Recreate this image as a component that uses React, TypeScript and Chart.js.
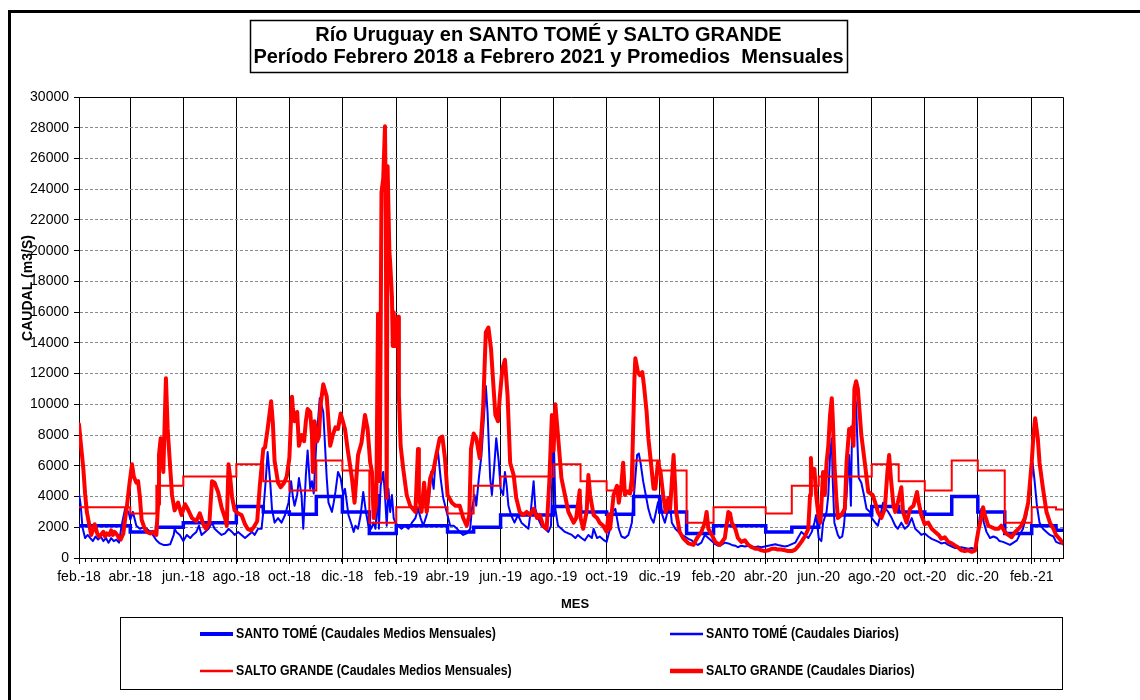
import { useEffect, useRef } from "react";
import { Chart, registerables } from "chart.js";

Chart.register(...registerables);

// ---------- texts ----------
const titleLines = [
  "Río Uruguay en SANTO TOMÉ y SALTO GRANDE",
  "Período Febrero 2018 a Febrero 2021 y Promedios  Mensuales",
];
const yAxisTitle = "CAUDAL (m3/S)";
const xAxisTitle = "MES";
const seriesNames = [
  "SANTO TOMÉ (Caudales Medios Mensuales)",
  "SANTO TOMÉ (Caudales Diarios)",
  "SALTO GRANDE (Caudales Medios Mensuales)",
  "SALTO GRANDE (Caudales Diarios)",
];

// ---------- x axis (days counted from 1 Feb 2018) ----------
const xTickLabels = [
  "feb.-18", "abr.-18", "jun.-18", "ago.-18", "oct.-18", "dic.-18",
  "feb.-19", "abr.-19", "jun.-19", "ago.-19", "oct.-19", "dic.-19",
  "feb.-20", "abr.-20", "jun.-20", "ago.-20", "oct.-20", "dic.-20",
  "feb.-21",
];
const xTickMonthOffsets = [0, 2, 4, 6, 8, 10, 12, 14, 16, 18, 20, 22, 24, 26, 28, 30, 32, 34, 36];
const xMaxDay = 1132;
const minorTickStepDays = 7;

// ---------- y axis ----------
const yMin = 0;
const yMax = 30000;
const yStep = 2000;

// ---------- monthly means (Feb-2018 ... Mar-2021) ----------
const stMonthly = [
  2100, 2100, 1700, 2000, 2300, 2300, 3350, 3000, 2850, 4000, 3000, 1600,
  2100, 2100, 1700, 2000, 2800, 2800, 3350, 3000, 2850, 4000, 3000, 1600,
  2100, 2100, 1700, 2000, 2800, 2800, 3350, 3000, 2850, 4000, 3000, 1600,
  2100, 1800,
];
const sgMonthly = [
  3300, 3300, 2900, 4700, 5300, 5300, 6100, 5000, 4400, 6350, 5700, 2300,
  3300, 3300, 2900, 4700, 5300, 5300, 6100, 5000, 4400, 6350, 5700, 2300,
  3300, 3300, 2900, 4700, 5300, 5300, 6100, 5000, 4400, 6350, 5700, 2300,
  3300, 3150,
];

// ---------- daily flows, Santo Tomé ----------
const stDailyDay = [
  0, 2, 4, 7, 10, 13, 16, 19, 22, 25, 28, 31, 34, 37, 40, 43, 46, 49, 53, 57,
  59, 62, 66, 70, 74, 78, 82, 85, 89, 93, 97, 101, 105, 109, 110, 112, 116, 120, 124, 128,
  131, 135, 138, 141, 145, 149, 153, 156, 160, 164, 168, 172, 176, 179, 183, 187, 191, 195, 199, 202,
  206, 210, 212, 215, 217, 220, 222, 225, 229, 233, 237, 241, 244, 246, 248, 251, 253, 256, 258, 261,
  263, 266, 268, 270, 273, 277, 281, 285, 287, 291, 293, 295, 298, 301, 304, 306, 310, 314, 316, 318,
  321, 324, 327, 330, 333, 336, 339, 341, 344, 345, 347, 350, 352, 354, 356, 358, 360, 362, 364, 367,
  371, 375, 379, 383, 387, 390, 393, 396, 400, 403, 405, 408, 410, 413, 416, 419, 423, 427, 431, 435,
  438, 442, 446, 450, 452, 455, 457, 460, 463, 466, 468, 470, 473, 475, 478, 480, 483, 485, 488, 490,
  492, 494, 497, 501, 505, 509, 513, 517, 520, 523, 525, 528, 532, 536, 540, 543, 546, 548, 551, 555,
  559, 563, 567, 571, 574, 578, 582, 586, 590, 592, 596, 599, 603, 607, 609, 611, 614, 617, 621, 624,
  628, 632, 636, 639, 642, 644, 646, 649, 652, 655, 658, 661, 663, 666, 669, 671, 674, 677, 680, 682,
  686, 690, 693, 697, 701, 705, 708, 712, 716, 720, 724, 728, 732, 735, 739, 743, 747, 751, 755, 758,
  762, 766, 770, 774, 778, 781, 785, 789, 793, 797, 801, 804, 808, 812, 816, 820, 824, 827, 831, 835,
  839, 843, 846, 848, 851, 854, 856, 860, 862, 864, 866, 867, 869, 873, 875, 878, 880, 883, 886, 888,
  889, 892, 894, 897, 900, 903, 906, 910, 912, 916, 919, 922, 925, 928, 931, 935, 939, 942, 946, 950,
  954, 958, 962, 966, 969, 973, 977, 981, 985, 989, 992, 996, 1000, 1004, 1008, 1011, 1015, 1019, 1023, 1027,
  1031, 1034, 1036, 1038, 1041, 1044, 1048, 1052, 1056, 1059, 1063, 1067, 1071, 1075, 1079, 1082, 1086, 1090, 1094, 1097,
  1099, 1102, 1105, 1109, 1113, 1117, 1121, 1124, 1128, 1132,
];
const stDailyVal = [
  4200, 3400, 2000, 1300, 1500, 1300, 1100, 1400, 1200, 1400, 1100, 1300, 1000, 1300, 1100, 1200, 1000, 2100, 3200, 3000,
  2500, 3000, 2100, 1900, 2000, 1900, 1700, 1500, 1150, 950, 850, 850, 900, 1500, 1900, 1700, 1500, 1100, 1500, 1300,
  1500, 1700, 2100, 1500, 1700, 1900, 2300, 1900, 1700, 1500, 1600, 1900, 1700, 1500, 1700, 1500, 1300, 1500, 1700, 1500,
  1900, 1900, 3000, 5200, 6900, 4900, 3200, 2300, 2600, 2300, 2800, 3600, 5000, 4000, 3400, 4100, 5200, 4100, 1900, 5400,
  7000, 4500, 5000, 4200, 7500, 10400, 9500, 5200, 3600, 3000, 3600, 4300, 5600, 5200, 4100, 4500, 2800, 2100, 1700, 2100,
  1900, 2800, 4300, 3000, 2100, 1900, 2300, 1900, 4100, 1900, 4700, 5600, 4100, 2100, 4500, 3000, 4100, 2600, 2300, 2100,
  1900, 2100, 1900, 2300, 2600, 3200, 2600, 2100, 2800, 4100, 5600, 4500, 6200, 6900, 5200, 3900, 3000, 2100, 2100, 1900,
  1700, 1500, 1600, 1900, 3200, 4100, 3400, 5200, 6700, 9300, 11200, 9500, 5200, 4100, 6200, 7800, 6200, 4500, 4100, 5600,
  4700, 3400, 2800, 2300, 2800, 2300, 2100, 1900, 3200, 5000, 3200, 2600, 2100, 1900, 1700, 2100, 8400, 3200, 2100, 1900,
  1700, 1600, 1500, 1300, 1500, 1300, 1150, 1500, 1300, 1900, 1300, 1400, 1200, 1050, 1500, 1900, 3000, 3200, 1900, 1400,
  1300, 1500, 2300, 4500, 6700, 6800, 6200, 5000, 4100, 3200, 2600, 2300, 2800, 3600, 3900, 2800, 2300, 3000, 3400, 2300,
  1900, 1700, 1500, 1400, 1250, 1150, 950, 850, 1000, 1500, 1300, 1100, 900, 800, 850, 1000, 950, 850, 800, 700,
  800, 750, 800, 750, 700, 750, 700, 750, 800, 850, 900, 850, 800, 750, 800, 900, 1000, 1300, 1700, 1500,
  1300, 1700, 2300, 2800, 1300, 1100, 2300, 3000, 4100, 6700, 7800, 5200, 2300, 1500, 1300, 1400, 2100, 4100, 6700, 3400,
  7300, 11000, 9900, 5200, 4900, 4100, 3200, 3000, 2600, 2300, 2100, 2800, 3600, 3200, 3000, 2600, 2100, 1900, 2300, 1900,
  2100, 2600, 1900, 1700, 1500, 1600, 1400, 1250, 1150, 1050, 950, 1000, 850, 750, 650, 650, 700, 650, 600, 650,
  550, 1500, 2600, 3200, 2300, 1700, 1300, 1400, 1300, 1100, 1050, 950, 850, 1000, 1150, 1500, 1900, 2800, 4500, 6200,
  5200, 3400, 2300, 1900, 1700, 1500, 1400, 1050, 950, 950,
];

// ---------- daily flows, Salto Grande ----------
const sgDailyDay = [
  0, 2, 5, 7, 9, 12, 14, 16, 18, 21, 23, 25, 28, 30, 32, 35, 37, 39, 41, 44,
  46, 48, 51, 53, 55, 58, 61, 63, 66, 68, 70, 72, 75, 78, 82, 85, 89, 91, 92, 94,
  97, 100, 102, 105, 107, 110, 114, 118, 122, 125, 130, 135, 139, 143, 146, 150, 153, 156, 160, 164,
  168, 170, 172, 174, 176, 179, 183, 187, 191, 194, 198, 201, 205, 208, 212, 214, 217, 221, 223, 225,
  229, 232, 236, 239, 242, 245, 246, 248, 251, 253, 256, 259, 261, 263, 266, 268, 269, 271, 274, 276,
  278, 281, 285, 289, 292, 295, 298, 301, 306, 309, 314, 317, 321, 325, 329, 332, 335, 337, 339, 342,
  344, 346, 348, 350, 352, 353, 354, 355, 357, 358, 360, 361, 362, 364, 367, 368, 370, 373, 377, 381,
  384, 387, 390, 391, 394, 397, 400, 404, 408, 411, 415, 418, 421, 424, 429, 433, 438, 442, 446, 449,
  451, 454, 457, 461, 465, 468, 471, 474, 477, 479, 482, 484, 487, 490, 493, 496, 500, 503, 507, 511,
  515, 519, 523, 527, 530, 534, 538, 541, 544, 546, 548, 551, 555, 559, 563, 569, 572, 576, 577, 580,
  584, 586, 588, 592, 596, 599, 603, 607, 609, 611, 615, 619, 621, 624, 626, 628, 630, 634, 636, 639,
  640, 643, 645, 648, 650, 653, 655, 658, 661, 663, 666, 669, 672, 675, 678, 680, 684, 686, 687, 691,
  695, 701, 707, 711, 716, 720, 722, 724, 728, 732, 737, 743, 747, 749, 751, 755, 758, 762, 766, 770,
  774, 778, 781, 785, 789, 793, 797, 801, 804, 808, 812, 816, 820, 824, 827, 831, 835, 839, 841, 842,
  843, 846, 848, 851, 853, 856, 858, 860, 862, 864, 866, 867, 869, 871, 873, 877, 881, 883, 886, 888,
  889, 891, 892, 894, 896, 898, 900, 904, 908, 913, 916, 919, 923, 927, 930, 932, 934, 937, 939, 942,
  946, 948, 952, 956, 960, 964, 966, 969, 973, 977, 981, 985, 989, 992, 996, 1000, 1004, 1008, 1011, 1015,
  1019, 1023, 1027, 1031, 1033, 1035, 1038, 1040, 1042, 1046, 1050, 1054, 1058, 1061, 1065, 1069, 1073, 1077, 1081, 1084,
  1088, 1092, 1096, 1098, 1100, 1103, 1105, 1109, 1113, 1117, 1121, 1124, 1128, 1132,
];
const sgDailyVal = [
  8700, 7500, 5800, 4200, 3000, 2100, 1500, 1800, 2200, 1600, 1400, 1500, 1700, 1400, 1600, 1500, 1800, 1500, 1700, 1500,
  1300, 1200, 1600, 2500, 3300, 4800, 6100, 5300, 4900, 5000, 4000, 2500, 2000, 1700, 1600, 1700, 1500, 3500, 6700, 7800,
  5600, 11700, 8400, 5800, 4100, 3100, 3600, 2800, 3500, 3200, 2600, 2400, 2900, 2200, 1900, 2300, 5000, 4900, 4300, 3300,
  2600, 2100, 6100, 5200, 4000, 3100, 2900, 2800, 2200, 1900, 1800, 2000, 2400, 4700, 7100, 7200, 8400, 10200, 8800, 6300,
  4900, 4600, 4900, 5300, 6500, 10500, 9800, 8900, 9500, 7300, 8000, 7600, 8900, 9700, 9500, 8000, 5600, 8900, 7600, 7900,
  10000, 11300, 10500, 7300, 8000, 8500, 8400, 9400, 8400, 7100, 5200, 3600, 6700, 7500, 9300, 8400, 6200, 5600, 2600, 3500,
  15900, 5000, 23800, 24700, 28100, 22300, 3900, 25500, 20000, 19200, 17000, 13800, 16000, 13800, 15700, 10600, 7300, 5800, 4100, 3400,
  3200, 3000, 7100, 4000, 3000, 4900, 3000, 5200, 5800, 6700, 7800, 7900, 6500, 4100, 3600, 3400, 3400, 2600, 2100, 2800,
  7100, 8100, 7800, 6500, 9900, 14700, 15000, 13600, 11000, 9300, 8900, 10400, 12300, 12900, 10600, 6200, 5400, 3900, 3000, 2800,
  3000, 2800, 3200, 2600, 2800, 2100, 1900, 4900, 9300, 7000, 10000, 8000, 5200, 4100, 3000, 2300, 2600, 4400, 2600, 1900,
  3000, 5400, 4100, 2800, 2600, 2300, 2100, 1700, 2800, 1900, 4100, 4700, 3600, 4800, 6200, 4100, 4300, 4200, 5200, 11700,
  13000, 12100, 11900, 12100, 11200, 9500, 7800, 6200, 4500, 4500, 6200, 5600, 4100, 3000, 3900, 3200, 6700, 4500, 3000, 1700,
  1300, 950, 850, 1300, 1700, 2300, 3000, 1900, 1500, 1050, 850, 1300, 3000, 2900, 2300, 1900, 1300, 1050, 1150, 850,
  700, 600, 600, 500, 450, 500, 600, 600, 550, 550, 500, 450, 450, 550, 750, 1050, 1400, 1900, 4100, 6500,
  5200, 5800, 4100, 2600, 2300, 5600, 4100, 6200, 7300, 9300, 10400, 9300, 6200, 4100, 2600, 2800, 3200, 6200, 8400, 8000,
  8500, 7300, 11000, 11500, 11000, 9500, 8000, 6200, 4300, 4100, 3600, 3000, 2600, 3200, 5600, 6700, 5200, 3400, 3000, 3600,
  4600, 3000, 2300, 3200, 3400, 4300, 3600, 2800, 2200, 2300, 1900, 1700, 1500, 1250, 1350, 1050, 950, 800, 700, 500,
  450, 500, 400, 500, 1250, 1900, 2600, 3300, 2800, 2100, 2000, 1900, 1900, 2100, 1700, 1500, 1350, 1700, 1900, 2100,
  2600, 3600, 6200, 8000, 9100, 7800, 6200, 4500, 3000, 2300, 1900, 1500, 1250, 950,
];

// ---------- helpers ----------
const FONT = "'Liberation Sans', Arial, sans-serif";
const monthStartDay = (m: number) =>
  Math.round((Date.UTC(2018, 1 + m, 1) - Date.UTC(2018, 1, 1)) / 86400000);

const stepPoints = (vals: number[]) => {
  const pts = vals.map((v, i) => ({ x: monthStartDay(i), y: v }));
  pts.push({ x: xMaxDay, y: vals[vals.length - 1] });
  return pts;
};
const zipPoints = (days: number[], vals: number[]) =>
  days.map((d, i) => ({ x: d, y: vals[i] }));

const majorTickDays = xTickMonthOffsets.map(monthStartDay);
const minorTickDays: number[] = [];
for (let d = 0; d <= xMaxDay; d += minorTickStepDays) minorTickDays.push(d);

const BLUE = "#0000ff";
const RED = "#ff0000";

const legendItems = [
  { text: seriesNames[0], color: BLUE, width: 4, x: 200, y: 634 },
  { text: seriesNames[1], color: BLUE, width: 2.5, x: 670, y: 634 },
  { text: seriesNames[2], color: RED, width: 2.5, x: 200, y: 671 },
  { text: seriesNames[3], color: RED, width: 4.5, x: 670, y: 671 },
];

const decorPlugin = {
  id: "decor",
  afterDraw(chart: any) {
    const ctx = chart.ctx as CanvasRenderingContext2D;
    const a = chart.chartArea;
    const xs = chart.scales.x;
    ctx.save();
    ctx.strokeStyle = "#000";
    ctx.fillStyle = "#000";

    // plot frame (top + right)
    ctx.lineWidth = 1;
    ctx.beginPath();
    ctx.moveTo(Math.round(a.left), Math.round(a.top) + 0.5);
    ctx.lineTo(Math.round(a.right) + 0.5, Math.round(a.top) + 0.5);
    ctx.lineTo(Math.round(a.right) + 0.5, Math.round(a.bottom));
    ctx.stroke();

    // minor x tick marks (weekly)
    ctx.beginPath();
    const yb = Math.round(a.bottom);
    for (const d of minorTickDays) {
      const px = Math.round(xs.getPixelForValue(d)) + 0.5;
      ctx.moveTo(px, yb);
      ctx.lineTo(px, yb + 4);
    }
    ctx.stroke();

    // outer frame
    ctx.lineWidth = 3;
    ctx.beginPath();
    ctx.moveTo(9.5, 700);
    ctx.lineTo(9.5, 11.5);
    ctx.lineTo(1140, 11.5);
    ctx.stroke();

    // title box
    ctx.lineWidth = 1.5;
    ctx.strokeRect(250.5, 20.5, 597, 52);
    ctx.font = `bold 20px ${FONT}`;
    ctx.textAlign = "center";
    ctx.textBaseline = "middle";
    ctx.fillText(titleLines[0], 548.5, 35);
    ctx.fillText(titleLines[1], 548.5, 57);

    // axis titles
    ctx.font = `bold 14px ${FONT}`;
    ctx.save();
    ctx.translate(28, 288);
    ctx.rotate(-Math.PI / 2);
    ctx.fillText(yAxisTitle, 0, 0);
    ctx.restore();
    ctx.font = `bold 13px ${FONT}`;
    ctx.fillText(xAxisTitle, 575, 604);

    // legend box
    ctx.lineWidth = 1;
    ctx.strokeRect(120.5, 617.5, 942, 72);
    ctx.textAlign = "left";
    ctx.font = `bold 15px ${FONT}`;
    for (const it of legendItems) {
      ctx.strokeStyle = it.color;
      ctx.lineWidth = it.width;
      ctx.beginPath();
      ctx.moveTo(it.x, it.y);
      ctx.lineTo(it.x + 33, it.y);
      ctx.stroke();
      ctx.save();
      ctx.translate(it.x + 36, it.y);
      ctx.scale(0.82, 1);
      ctx.fillStyle = "#000";
      ctx.fillText(it.text, 0, 0);
      ctx.restore();
    }
    ctx.restore();
  },
};

export default function App() {
  const canvasRef = useRef<HTMLCanvasElement | null>(null);

  useEffect(() => {
    document.body.style.margin = "0";
    const canvas = canvasRef.current;
    if (!canvas) return;
    Chart.defaults.font.family = FONT;

    const chart = new Chart(canvas, {
      type: "line",
      data: {
        datasets: [
          {
            label: seriesNames[3],
            data: zipPoints(sgDailyDay, sgDailyVal),
            borderColor: RED,
            borderWidth: 4,
            pointRadius: 0,
            borderJoinStyle: "round",
            borderCapStyle: "round",
          },
          {
            label: seriesNames[2],
            data: stepPoints(sgMonthly),
            borderColor: RED,
            borderWidth: 2,
            pointRadius: 0,
            stepped: true,
          },
          {
            label: seriesNames[1],
            data: zipPoints(stDailyDay, stDailyVal),
            borderColor: BLUE,
            borderWidth: 2,
            pointRadius: 0,
            borderJoinStyle: "round",
          },
          {
            label: seriesNames[0],
            data: stepPoints(stMonthly),
            borderColor: BLUE,
            borderWidth: 3.5,
            pointRadius: 0,
            stepped: true,
          },
        ],
      },
      options: {
        responsive: false,
        animation: false,
        events: [],
        layout: { padding: { top: 97, right: 77, left: 0, bottom: 0 } },
        plugins: {
          legend: { display: false },
          title: { display: false },
          tooltip: { enabled: false },
        },
        scales: {
          x: {
            type: "linear",
            position: "bottom",
            min: 0,
            max: xMaxDay,
            afterBuildTicks: (s: any) => {
              s.ticks = majorTickDays.map((v) => ({ value: v }));
            },
            afterFit: (s: any) => {
              s.height = 142;
            },
            ticks: {
              autoSkip: false,
              maxRotation: 0,
              minRotation: 0,
              padding: 5,
              color: "#000",
              font: { size: 14 },
              callback: (_v: any, i: number) => xTickLabels[i],
            },
            grid: {
              color: "#000",
              lineWidth: 1,
              tickLength: 6,
              tickColor: "#000",
            },
            border: { color: "#000", width: 1 },
          },
          y: {
            type: "linear",
            min: yMin,
            max: yMax,
            afterFit: (s: any) => {
              s.width = 79;
            },
            ticks: {
              stepSize: yStep,
              padding: 5,
              color: "#000",
              font: { size: 14 },
              callback: (v: any) => String(v),
            },
            grid: {
              color: (c: any) =>
                c.tick && (c.tick.value === yMin || c.tick.value === yMax)
                  ? "rgba(0,0,0,0)"
                  : "#8a8a8a",
              lineWidth: 1,
              tickLength: 5,
              tickColor: "#000",
            },
            border: { color: "#000", width: 1, dash: [3, 2] },
          },
        },
      } as any,
      plugins: [decorPlugin],
    });

    return () => chart.destroy();
  }, []);

  return (
    <canvas
      ref={canvasRef}
      width={1140}
      height={700}
      style={{ display: "block", width: 1140, height: 700 }}
    />
  );
}
